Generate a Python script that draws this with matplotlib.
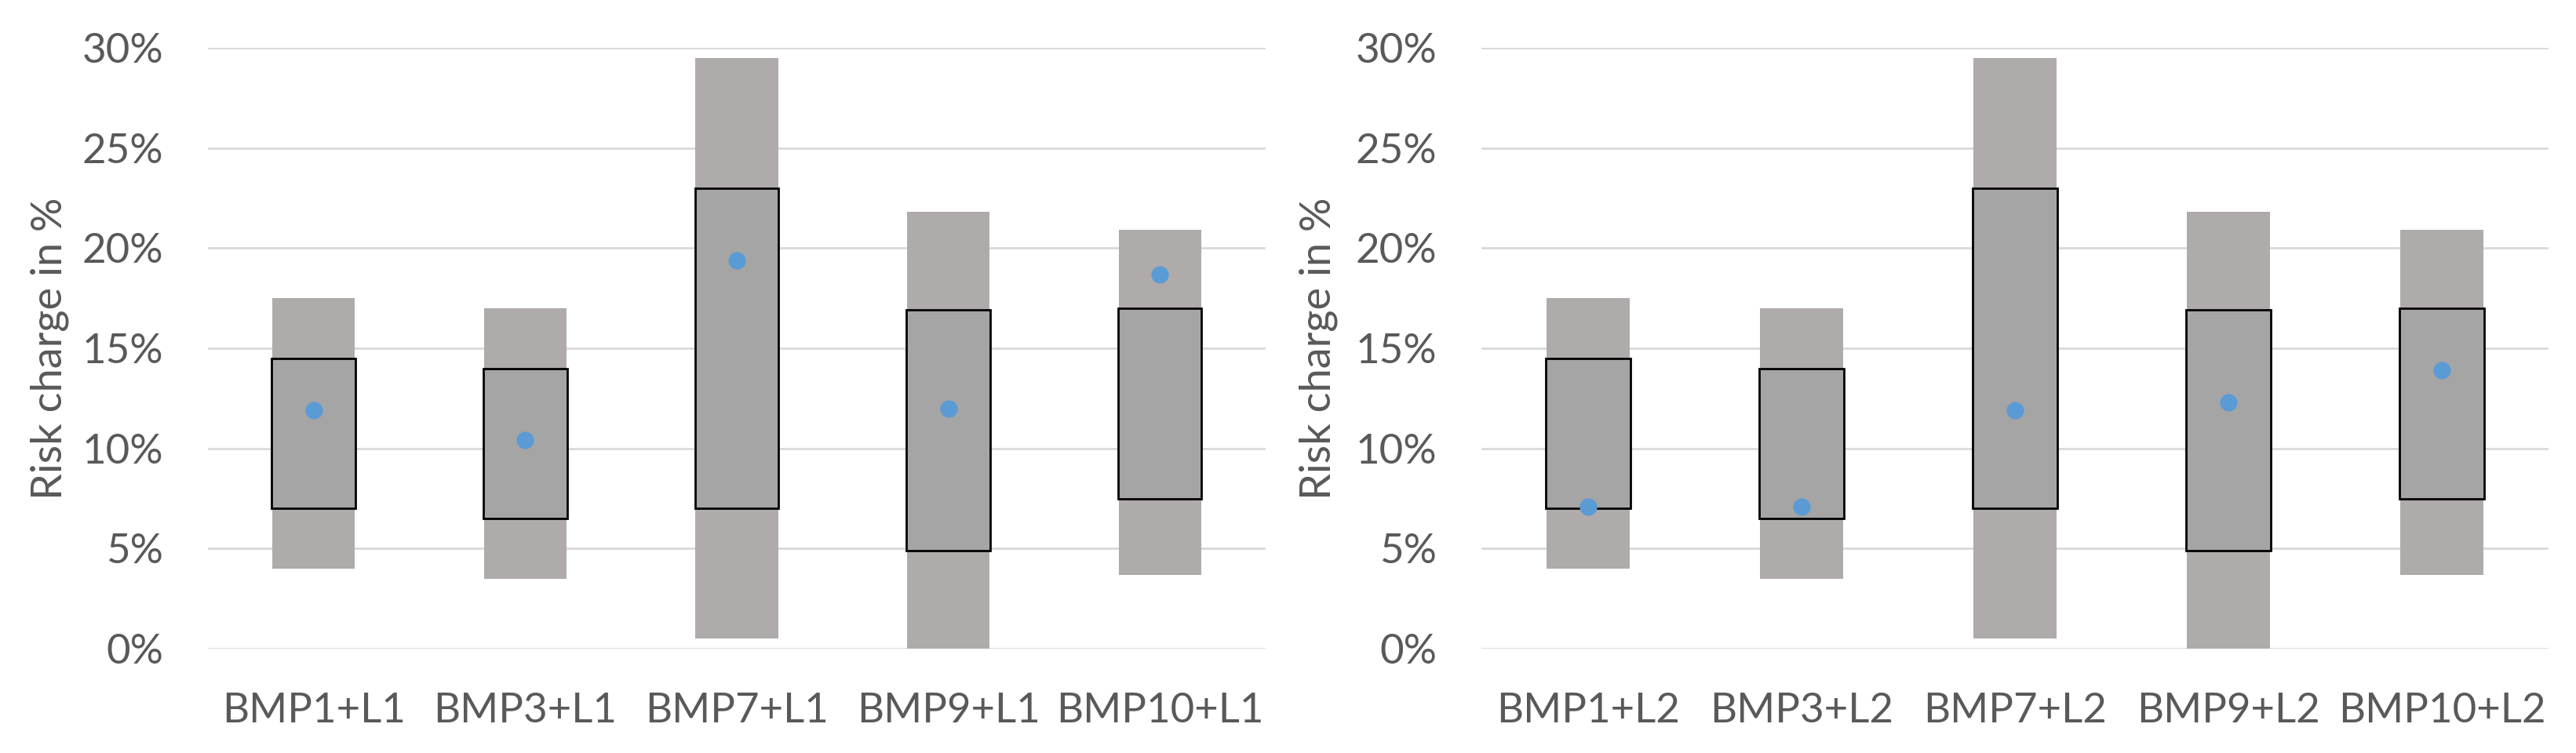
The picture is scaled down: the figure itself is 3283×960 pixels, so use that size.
import matplotlib.pyplot as plt
from matplotlib.ticker import FuncFormatter

plt.rcParams['font.family'] = ['Lato', 'DejaVu Sans']

# data (percent)
labels_l1 = ['BMP1+L1', 'BMP3+L1', 'BMP7+L1', 'BMP9+L1', 'BMP10+L1']
labels_l2 = ['BMP1+L2', 'BMP3+L2', 'BMP7+L2', 'BMP9+L2', 'BMP10+L2']
range_low = [4.0, 3.5, 0.5, 0.0, 3.7]
range_high = [17.5, 17.0, 29.5, 21.8, 20.9]
box_low = [7.0, 6.5, 7.0, 4.9, 7.5]
box_high = [14.5, 14.0, 23.0, 16.9, 17.0]
dots_l1 = [11.9, 10.4, 19.4, 12.0, 18.7]
dots_l2 = [7.1, 7.1, 11.9, 12.3, 13.9]
yticks = [0, 5, 10, 15, 20, 25, 30]

text_col = '#595959'

fig = plt.figure(figsize=(32.83, 9.6), dpi=100)
ax1 = fig.add_axes([0.0807, 0.1385, 0.4106, 0.798])
ax2 = fig.add_axes([0.5751, 0.1385, 0.4143, 0.798])


def draw(ax, labels, dots):
    x = list(range(len(labels)))
    ax.bar(x, [h - l for h, l in zip(range_high, range_low)], bottom=range_low,
           width=0.39, color='#AFABAB', zorder=2)
    ax.bar(x, [h - l for h, l in zip(box_high, box_low)], bottom=box_low,
           width=0.395, color='#A5A5A5', edgecolor='black', linewidth=2, zorder=3)
    ax.plot(x, dots, 'o', color='#5B9BD5', markersize=16, markeredgewidth=0, zorder=4)

    ax.set_xlim(-0.5, len(labels) - 0.5)
    ax.set_ylim(0, 30)
    ax.set_yticks(yticks)
    ax.yaxis.set_major_formatter(FuncFormatter(lambda v, p: f'{v:.0f}%'))
    ax.set_xticks(x)
    ax.set_xticklabels(labels)
    ax.grid(axis='y', color='#D9D9D9', linewidth=2, zorder=0)
    ax.set_axisbelow(True)
    for s in ax.spines.values():
        s.set_visible(False)
    ax.tick_params(axis='both', length=0, labelsize=38, colors=text_col)
    ax.tick_params(axis='x', pad=40)
    ax.tick_params(axis='y', pad=41)
    ax.set_ylabel('Risk charge in %', fontsize=39, color=text_col)


draw(ax1, labels_l1, dots_l1)
draw(ax2, labels_l2, dots_l2)
ax1.yaxis.set_label_coords(-0.131, 0.5)
ax2.yaxis.set_label_coords(-0.1346, 0.5)

fig.savefig('out.png', dpi=100)
